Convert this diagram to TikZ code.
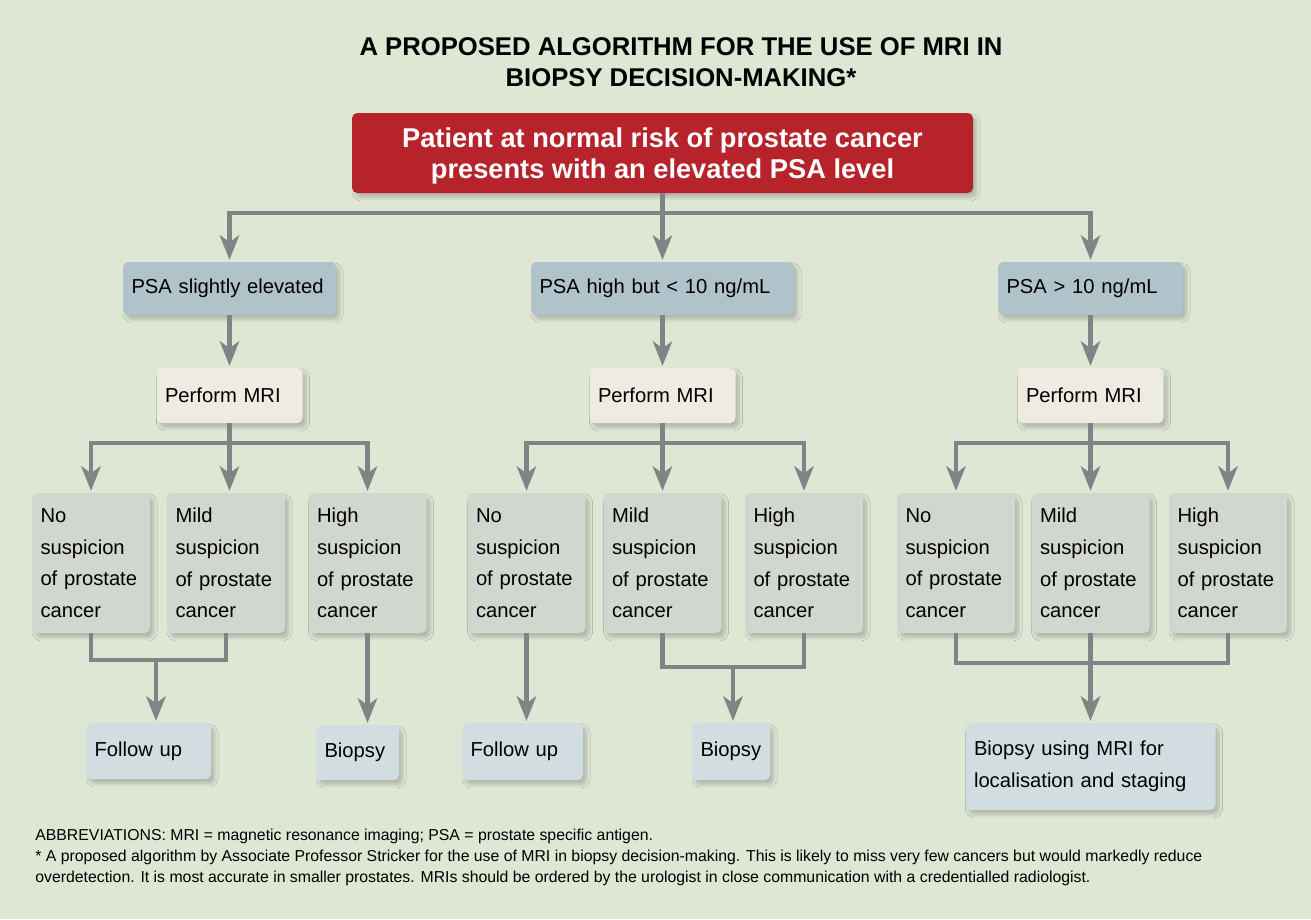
\documentclass[tikz,border=0pt]{standalone}
\usepackage{fontspec}
\setmainfont{Liberation Sans}
\usetikzlibrary{arrows.meta,shadows.blur}
\definecolor{bggreen}{RGB}{222,230,212}
\definecolor{riskred}{RGB}{182,35,43}
\definecolor{psablue}{RGB}{176,195,203}
\definecolor{mricream}{RGB}{238,236,226}
\definecolor{suspgrey}{RGB}{209,214,207}
\definecolor{outblue}{RGB}{210,221,226}
\definecolor{flowgrey}{RGB}{130,131,134}

\begin{document}
\begin{tikzpicture}[
		soft/.style={blur shadow={shadow xshift=2pt, shadow yshift=-2.5pt, shadow blur radius=2pt, shadow blur steps=8, shadow opacity=20}},
		box/.style={soft, rounded corners=3pt, inner xsep=0.17cm, inner ysep=0pt, align=left,
			font=\fontsize{11.5}{18}\selectfont},
		psabox/.style={box, fill=psablue, minimum height=1.06cm},
		mribox/.style={box, fill=mricream, minimum height=1.1cm, text width=2.58cm},
		suspbox/.style={box, fill=suspgrey, minimum height=2.8cm, text width=2.02cm},
		outbox/.style={box, fill=outblue, minimum height=1.12cm},
		link/.style={flowgrey, line width=2.8pt},
		flow/.style={link, -{Stealth[length=14pt,width=11pt,inset=4pt]}, shorten >=1pt},
		note/.style={anchor=west, align=left, inner sep=0pt, font=\fontsize{9}{12}\selectfont}
	]
		\fill[bggreen] (0,0) rectangle (26.22,-18.38);
		\useasboundingbox (0,0) rectangle (26.22,-18.38);

		\node[align=center, font=\bfseries\fontsize{14.6}{18}\selectfont] (title) at (13.62,-1.24) {A PROPOSED ALGORITHM FOR THE USE OF MRI IN\\BIOPSY DECISION-MAKING*};
		\node[soft, fill=riskred, rounded corners=3pt, minimum width=12.42cm, minimum height=1.6cm, text=white, align=center,
			text depth=0pt, font=\bfseries\fontsize{15.5}{18}\selectfont] (risk) at (13.25,-3.06)
			{Patient at normal risk of prostate cancer\\presents with an elevated PSA level};

		% PSA levels
		\node[psabox, text width=3.92cm] (psa1) at (4.59,-5.77) {PSA slightly elevated};
		\node[psabox, text width=4.92cm] (psa2) at (13.25,-5.77) {PSA high but < 10 ng/mL};
		\node[psabox, text width=3.36cm] (psa3) at (21.81,-5.77) {PSA > 10 ng/mL};

		\node[mribox] (mri1) at (4.59,-7.91) {Perform MRI};
		\node[mribox] (mri2) at (13.25,-7.91) {Perform MRI};
		\node[mribox] (mri3) at (21.81,-7.91) {Perform MRI};

		% MRI findings
		\node[suspbox] (no1) at (1.82,-11.26) {No\\suspicion\\of prostate\\cancer};
		\node[suspbox] (mild1) at (4.52,-11.26) {Mild\\suspicion\\of prostate\\cancer};
		\node[suspbox] (high1) at (7.35,-11.26) {High\\suspicion\\of prostate\\cancer};
		\node[suspbox] (no2) at (10.53,-11.26) {No\\suspicion\\of prostate\\cancer};
		\node[suspbox] (mild2) at (13.25,-11.26) {Mild\\suspicion\\of prostate\\cancer};
		\node[suspbox] (high2) at (16.08,-11.26) {High\\suspicion\\of prostate\\cancer};
		\node[suspbox] (no3) at (19.12,-11.26) {No\\suspicion\\of prostate\\cancer};
		\node[suspbox] (mild3) at (21.81,-11.26) {Mild\\suspicion\\of prostate\\cancer};
		\node[suspbox] (high3) at (24.56,-11.26) {High\\suspicion\\of prostate\\cancer};

		% outcomes
		\node[outbox, text width=2.16cm] (follow1) at (2.97,-15.02) {Follow up};
		\node[outbox, text width=1.32cm, minimum height=1.1cm] (biopsy1) at (7.15,-15.05) {Biopsy};
		\node[outbox, text width=2.08cm, minimum height=1.14cm] (follow2) at (10.45,-15.03) {Follow up};
		\node[outbox, text width=1.22cm, minimum height=1.14cm] (biopsy2) at (14.62,-15.03) {Biopsy};
		\node[outbox, text width=4.66cm, minimum height=1.74cm] (mribiopsy) at (21.81,-15.33) {Biopsy using MRI for\\localisation and staging};

		\coordinate (top) at (13.25,-4.26);
		\coordinate (split1) at (4.59,-8.86);
		\coordinate (split2) at (13.25,-8.86);
		\coordinate (split3) at (21.81,-8.86);
		\coordinate (join1) at (3.12,-13.2);
		\coordinate (join2) at (14.66,-13.34);
		\coordinate (join3) at (21.81,-13.26);

		\draw[flow] (risk.south) -- (top) -| (psa1.north);
		\draw[flow] (risk.south) -- (psa2.north);
		\draw[flow] (risk.south) -- (top) -| (psa3.north);

		\draw[flow] (psa1.south) -- (mri1.north);
		\draw[flow] (psa2.south) -- (mri2.north);
		\draw[flow] (psa3.south) -- (mri3.north);

		\draw[flow] (mri1.south) -- (split1) -| (no1.north);
		\draw[flow] (mri1.south) -- (mri1.south |- mild1.north);
		\draw[flow] (mri1.south) -- (split1) -| (high1.north);
		\draw[flow] (mri2.south) -- (split2) -| (no2.north);
		\draw[flow] (mri2.south) -- (mild2.north);
		\draw[flow] (mri2.south) -- (split2) -| (high2.north);
		\draw[flow] (mri3.south) -- (split3) -| (no3.north);
		\draw[flow] (mri3.south) -- (mild3.north);
		\draw[flow] (mri3.south) -- (split3) -| (high3.north);

		\draw[link] (no1.south) |- (join1) -| (mild1.south);
		\draw[flow] (join1) -- (join1 |- follow1.north);
		\draw[flow] (high1.south) -- (high1.south |- biopsy1.north);

		\draw[flow] (no2.south) -- (no2.south |- follow2.north);
		\draw[link] (mild2.south) |- (join2) -| (high2.south);
		\draw[flow] (join2) -- (join2 |- biopsy2.north);

		\draw[link] (no3.south) |- (join3) -| (high3.south);
		\draw[link] (mild3.south) -- (join3);
		\draw[flow] (join3) -- (mribiopsy.north);

		\node[note] (abbrev) at (0.7,-16.72) {ABBREVIATIONS: MRI = magnetic resonance imaging; PSA = prostate specific antigen.};
		\node[note] (footnote) at (0.7,-17.35) {* A proposed algorithm by Associate Professor Stricker for the use of MRI in biopsy decision-making. This is likely to miss very few cancers but would markedly reduce\\overdetection. It is most accurate in smaller prostates. MRIs should be ordered by the urologist in close communication with a credentialled radiologist.};
	\end{tikzpicture}
\end{document}
